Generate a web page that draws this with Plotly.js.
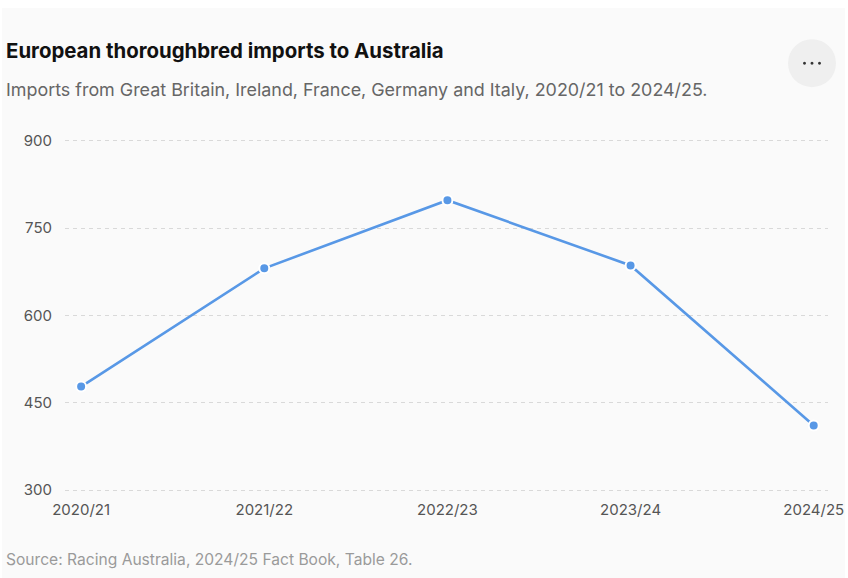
<!DOCTYPE html>
<html>
<head>
<meta charset="utf-8">
<script src="https://cdn.plot.ly/plotly-3.0.1.min.js"></script>
<style>
  html, body { margin: 0; padding: 0; background: #ffffff; }
  #card { position: absolute; left: 2px; top: 8px; width: 843px; height: 570px; background: #fafafa; }
  #chart { position: absolute; left: 0; top: 0; width: 848px; height: 578px; }
</style>
</head>
<body>
<div id="card"></div>
<div id="chart"></div>
<script>
// Racing Australia fact book, european imports
var seasons = ['2020/21', '2021/22', '2022/23', '2023/24', '2024/25'];
var imports = [478, 681, 798, 686, 411];
var yTicks = [300, 450, 600, 750, 900];

var titleText = 'European thoroughbred imports to Australia';
var subtitleText = 'Imports from Great Britain, Ireland, France, Germany and Italy, 2020/21 to 2024/25.';
var sourceText = 'Source: Racing Australia, 2024/25 Fact Book, Table 26.';

var W = 848, H = 578;
// plot box padded 10 units past 300 / 900 so the end gridlines get drawn
var L = 65, R = 828, T = 134.9, B = 496.5;

// pixel -> paper helpers for the text and the menu button
function px(x) { return (x - L) / (R - L); }
function py(y) { return (B - y) / (B - T); }

var trace = {
    x: seasons,
    y: imports,
    type: 'scatter',
    mode: 'lines+markers',
    line: { color: '#5898e6', width: 2.6 },
    marker: { color: '#5898e6', size: 10, line: { color: '#ffffff', width: 2 } },
    cliponaxis: false,
    hoverinfo: 'x+y'
};

var layout = {
    width: W,
    height: H,
    margin: { l: L, r: W - R, t: T, b: H - B, pad: 0 },
    paper_bgcolor: 'rgba(0,0,0,0)',
    plot_bgcolor: 'rgba(0,0,0,0)',
    showlegend: false,
    font: { family: 'Inter, "Open Sans", sans-serif', color: '#555' },
    xaxis: {
        type: 'category',
        range: [-0.088, 4.078],
        showgrid: false,
        zeroline: false,
        showline: false,
        ticks: '',
        ticklabelstandoff: 3,
        tickfont: { size: 15, color: '#555' },
        fixedrange: true
    },
    yaxis: {
        range: [290, 910],
        tickvals: yTicks,
        ticktext: yTicks.map(String),
        showgrid: true,
        gridcolor: '#d9d9d9',
        gridwidth: 1,
        griddash: '4px,4px',
        zeroline: false,
        showline: false,
        ticks: '',
        ticklabelstandoff: 12,
        tickfont: { size: 15, color: '#555' },
        fixedrange: true
    },
    annotations: [
        {
            text: '<b>' + titleText + '</b>',
            xref: 'paper', yref: 'paper',
            x: px(4), y: py(50), xanchor: 'left', yanchor: 'middle',
            showarrow: false,
            font: { size: 20.4, color: '#111' }
        },
        {
            text: subtitleText,
            xref: 'paper', yref: 'paper',
            x: px(4), y: py(89), xanchor: 'left', yanchor: 'middle',
            showarrow: false,
            font: { size: 17.9, color: '#666' }
        },
        {
            text: sourceText,
            xref: 'paper', yref: 'paper',
            x: px(4), y: py(560), xanchor: 'left', yanchor: 'middle',
            showarrow: false,
            font: { size: 15.6, color: '#9a9a9a' }
        }
    ],
    shapes: [
        {
            type: 'circle', xref: 'paper', yref: 'paper',
            x0: px(788), x1: px(836), y0: py(87), y1: py(39),
            fillcolor: '#efefef', line: { width: 0 }
        },
        {
            type: 'circle', xref: 'paper', yref: 'paper',
            x0: px(803), x1: px(806), y0: py(64.5), y1: py(61.5),
            fillcolor: '#333', line: { width: 0 }
        },
        {
            type: 'circle', xref: 'paper', yref: 'paper',
            x0: px(810.5), x1: px(813.5), y0: py(64.5), y1: py(61.5),
            fillcolor: '#333', line: { width: 0 }
        },
        {
            type: 'circle', xref: 'paper', yref: 'paper',
            x0: px(818), x1: px(821), y0: py(64.5), y1: py(61.5),
            fillcolor: '#333', line: { width: 0 }
        }
    ]
};

Plotly.newPlot('chart', [trace], layout, { displayModeBar: false });
</script>
</body>
</html>
